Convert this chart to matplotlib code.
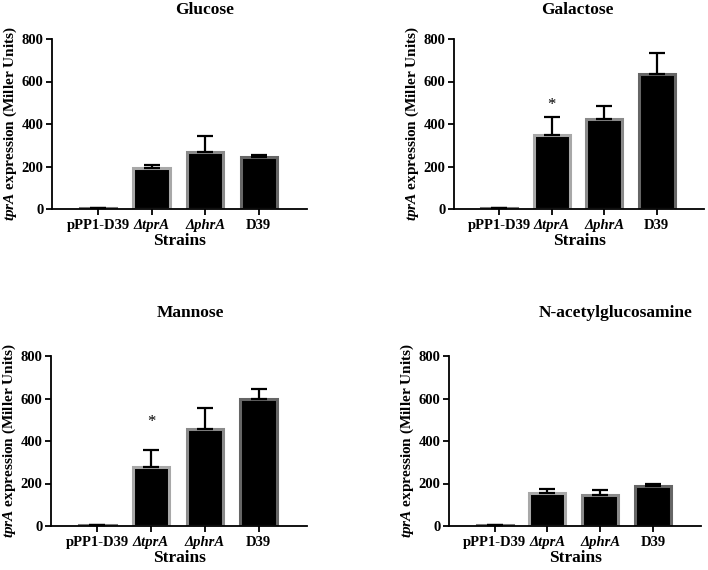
import numpy as np
import matplotlib
matplotlib.use("Agg")
import matplotlib.pyplot as plt

plt.rcParams['font.family'] = ['Liberation Serif', 'DejaVu Serif']
plt.rcParams['font.weight'] = 'bold'
plt.rcParams['mathtext.fontset'] = 'custom'
plt.rcParams['mathtext.rm'] = 'Liberation Serif:bold'
plt.rcParams['mathtext.bfit'] = 'Liberation Serif:italic:bold'
plt.rcParams['mathtext.it'] = 'Liberation Serif:italic:bold'

# --- data ---
strains = ["pPP1-D39", "ΔtprA", "ΔphrA", "D39"]
italic_strains = [False, True, True, False]
edge_colors = ["#7a7a7a", "#a8a8a8", "#8a8a8a", "#666666"]

glucose = [3, 195, 268, 244]
glucose_err = [1, 10, 75, 10]
galactose = [3, 349, 423, 636]
galactose_err = [1, 86, 63, 97]
mannose = [3, 280, 458, 599]
mannose_err = [1, 77, 98, 47]
nag = [3, 155, 145, 188]
nag_err = [1, 18, 25, 10]

panels = [
    ("Glucose", glucose, glucose_err, None),
    ("Galactose", galactose, galactose_err, 490),
    ("Mannose", mannose, mannose_err, 490),
    ("N-acetylglucosamine", nag, nag_err, None),
]

W, H = 708, 570
# axes boxes in pixels: left, top, right, bottom
boxes = [(52, 39, 307, 209), (454, 39, 704, 209),
         (51, 356, 307, 526), (449, 356, 701, 526)]
# title centre x (px) and y (px)
title_pos = [(205, 10), (577, 10), (190, 313), (616, 313)]

fig = plt.figure(figsize=(W / 100, H / 100), dpi=100)

for (name, vals, errs, star), (l, t, r, b), (tx, ty) in zip(panels, boxes, title_pos):
    ax = fig.add_axes([l / W, 1 - b / H, (r - l) / W, (b - t) / H])
    x = np.arange(len(strains))
    ax.bar(x, vals, width=0.68, color="black", edgecolor=edge_colors,
           linewidth=2.2, zorder=2)
    ax.errorbar(x, vals, yerr=[np.zeros(len(errs)), errs], fmt="none",
                ecolor="black", elinewidth=1.6, capsize=5.5, capthick=1.6, zorder=3)
    if star is not None:
        ax.text(1, star, "*", ha="center", va="center", fontsize=12,
                fontweight="normal")
    ax.set_xlim(-0.86, 3.9)
    ax.set_ylim(0, 800)
    ax.set_yticks([0, 200, 400, 600, 800])
    ax.set_xticks(x)
    ax.set_xticklabels(strains)
    for lab, it in zip(ax.get_xticklabels(), italic_strains):
        if it:
            lab.set_fontstyle("italic")
    ax.tick_params(axis="both", direction="out", length=4, width=1.3,
                   labelsize=10.5, pad=2)
    ax.tick_params(axis="x", pad=3)
    for s in ["top", "right"]:
        ax.spines[s].set_visible(False)
    for s in ["left", "bottom"]:
        ax.spines[s].set_linewidth(1.3)
    ax.set_xlabel("Strains", fontsize=12.5, fontweight="bold", labelpad=1)
    ax.set_ylabel(r"$\mathbfit{tprA}$ expression (Miller Units)", fontsize=11,
                  fontweight="bold", labelpad=2)
    fig.text(tx / W, 1 - ty / H, name, ha="center", va="center",
             fontsize=12.5, fontweight="bold")

fig.savefig("out.png", dpi=100)
